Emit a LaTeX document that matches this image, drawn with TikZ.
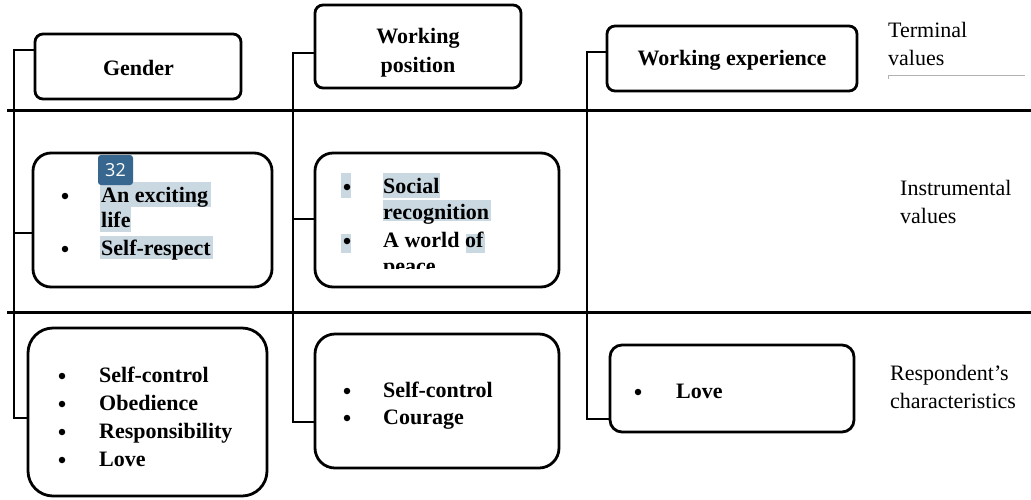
\documentclass[tikz,border=0pt]{standalone}
\usepackage{fontspec}
\setmainfont{Liberation Serif}
\newfontfamily\badgefont{Open Sans}
\definecolor{hlblue}{HTML}{CAD8E2}
\definecolor{badgeblue}{HTML}{37668F}
\begin{document}
\begin{tikzpicture}[x=1pt,y=-1pt,
  box/.style={draw, line width=2.8pt, inner sep=0pt},
  conn/.style={line width=1.1pt},
  rule/.style={line width=3pt},
  lbl/.style={font=\fontsize{22}{28}\selectfont\bfseries, inner sep=0pt, anchor=base west},
  ctr/.style={font=\fontsize{22}{28}\selectfont\bfseries, inner sep=0pt, anchor=base},
  blt/.style={circle, fill=black, inner sep=0pt, minimum size=6.5pt},
  side/.style={font=\fontsize{22}{28}\selectfont, inner sep=0pt, anchor=base west},
  hl/.style={fill=hlblue, draw=none},
]
\useasboundingbox (0,0) rectangle (1031,499);

% horizontal separators between the three levels
\draw[rule] (7,110) -- (1031,110);
\draw[rule] (7,312) -- (1031,312);

% header boxes
\node[box, rounded corners=8pt, minimum width=206pt, minimum height=65pt] (g1) at (138,66.5) {};
\node[box, rounded corners=8pt, minimum width=206pt, minimum height=83pt] (w1) at (418,46.5) {};
\node[box, rounded corners=8pt, minimum width=250pt, minimum height=65pt] (e1) at (732,58.5) {};
\node[ctr] (g1t) at (138.5,75) {Gender};
\node[ctr] (w1a) at (418,43) {Working};
\node[ctr] (w1b) at (418,72) {position};
\node[ctr] (e1t) at (732,65) {Working experience};

% instrumental values boxes
\node[box, rounded corners=18pt, minimum width=239pt, minimum height=134pt] (g2) at (152.5,220) {};
\node[box, rounded corners=18pt, minimum width=244pt, minimum height=134pt] (w2) at (437,220) {};

% respondent's characteristics boxes
\node[box, rounded corners=25pt, minimum width=239pt, minimum height=168pt] (g3) at (147.5,412) {};
\node[box, rounded corners=20pt, minimum width=244pt, minimum height=134pt] (w3) at (437,401) {};
\node[box, rounded corners=12pt, minimum width=244pt, minimum height=87pt] (e3) at (732,388.5) {};

% connectors for each column
\coordinate (gt) at (14,50);
\coordinate (gm) at (14,233);
\coordinate (gb) at (14,418);
\draw[conn] (g1.west |- gt) -- (gt) -- (gb) -- (g3.west |- gb);
\draw[conn] (gm) -- (g2.west |- gm);

\coordinate (wt) at (293,53);
\coordinate (wm) at (293,219);
\coordinate (wb) at (293,422);
\draw[conn] (w1.west |- wt) -- (wt) -- (wb) -- (w3.west |- wb);
\draw[conn] (wm) -- (w2.west |- wm);

\coordinate (et) at (587,52);
\coordinate (eb) at (587,419);
\draw[conn] (e1.west |- et) -- (et) -- (eb) -- (e3.west |- eb);

% selection highlights
\fill[hl] (100,182) rectangle (211,207);
\fill[hl] (100,207) rectangle (131,232);
\fill[hl] (100,236) rectangle (213,259);
\fill[hl] (341,173) rectangle (351,198);
\fill[hl] (383,173) rectangle (440,198);
\fill[hl] (383,200) rectangle (491,221);
\fill[hl] (341,234) rectangle (351,253);
\fill[hl] (466,234) rectangle (485,253);

% Gender: instrumental values
\node[blt] (gb1) at (65,196) {};
\node[lbl] (gi1) at (101,202) {An exciting};
\node[lbl] (gi1b) at (101,227) {life};
\node[blt] (gb2) at (65,249) {};
\node[lbl] (gi2) at (101,255) {Self-respect};
\node[fill=badgeblue, rounded corners=3pt, minimum width=35pt, minimum height=30pt,
      text=white, font=\badgefont\fontsize{18}{18}\selectfont, inner sep=0pt] (badge) at (115.5,170) {32};

% Working position: instrumental values (last line cut off by the box)
\begin{scope}
  \clip (300,150) rectangle (560,268);
  \node[blt] (wb1) at (347,187) {};
  \node[lbl] (wi1) at (383,193) {Social};
  \node[lbl] (wi1b) at (383,219) {recognition};
  \node[blt] (wb2) at (347,241) {};
  \node[lbl] (wi2) at (383,247) {A world of};
  \node[lbl] (wi2b) at (383,273) {peace};
\end{scope}

% Gender: respondent's characteristics
\node[blt] (gr1b) at (62,376) {};
\node[lbl] (gr1) at (99,382) {Self-control};
\node[blt] (gr2b) at (62,404) {};
\node[lbl] (gr2) at (99,410) {Obedience};
\node[blt] (gr3b) at (62,432) {};
\node[lbl] (gr3) at (99,438) {Responsibility};
\node[blt] (gr4b) at (62,460) {};
\node[lbl] (gr4) at (99,466) {Love};

% Working position: respondent's characteristics
\node[blt] (wr1b) at (347,391) {};
\node[lbl] (wr1) at (383,397) {Self-control};
\node[blt] (wr2b) at (347,418) {};
\node[lbl] (wr2) at (383,424) {Courage};

% Working experience: respondent's characteristics
\node[blt] (er1b) at (638,392) {};
\node[lbl] (er1) at (676,398) {Love};

% level labels on the right
\node[side] (t1) at (888,37) {Terminal};
\node[side] (t2) at (888,65) {values};
\draw[gray!60, line width=0.6pt] (888,79) -- (888,75) -- (1025,75);
\node[side] (i1) at (900,195) {Instrumental};
\node[side] (i2) at (900,223) {values};
\node[side] (r1) at (890,380) {Respondent’s};
\node[side] (r2) at (890,408) {characteristics};
\end{tikzpicture}
\end{document}
